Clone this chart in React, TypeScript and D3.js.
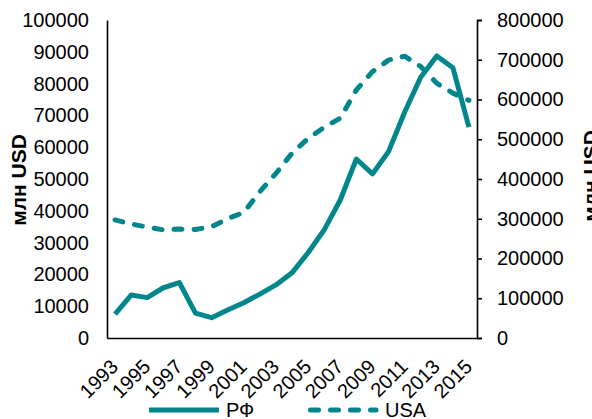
import { useEffect, useRef } from "react";
import * as d3 from "d3";

const years = [
  "1993", "1994", "1995", "1996", "1997", "1998", "1999", "2000",
  "2001", "2002", "2003", "2004", "2005", "2006", "2007", "2008",
  "2009", "2010", "2011", "2012", "2013", "2014", "2015",
];

// РФ, left axis (млн USD)
const rfValues = [
  7500, 13500, 12700, 15800, 17400, 7800, 6400, 8800,
  11100, 13800, 16700, 20500, 26800, 34000, 43400, 56300,
  51600, 58600, 71000, 82000, 88700, 85000, 66300,
];

// USA, right axis (млн USD)
const usaValues = [
  297000, 287000, 279000, 272000, 274000, 273000, 280000, 300000,
  316000, 368000, 414000, 465000, 502000, 530000, 553000, 624000,
  670000, 699000, 709000, 683000, 641000, 616000, 598000,
];

const leftTicks = [0, 10000, 20000, 30000, 40000, 50000, 60000, 70000, 80000, 90000, 100000];
const rightTicks = [0, 100000, 200000, 300000, 400000, 500000, 600000, 700000, 800000];
const yearLabels = years.filter((_, i) => i % 2 === 0);

const seriesNames = ["РФ", "USA"];
const axisTitle = "млн USD";

export default function App() {
  const svgRef = useRef<SVGSVGElement>(null);

  useEffect(() => {
    if (!svgRef.current) return;
    const svg = d3.select(svgRef.current);
    svg.selectAll("*").remove();

    const left = 107;
    const right = 477;
    const top = 20;
    const bottom = 338;
    const color = "#00868b";
    const font = "'Liberation Sans', Arial, sans-serif";

    const x = d3.scalePoint<string>().domain(years).range([left, right]).padding(0.5);
    const yL = d3.scaleLinear().domain([0, 100000]).range([bottom, top]);
    const yR = d3.scaleLinear().domain([0, 800000]).range([bottom, top]);

    const styleAxis = (g: any) => {
      g.select(".domain").attr("stroke", "#000").attr("stroke-width", 1.6);
      g.selectAll(".tick line").attr("stroke", "#000").attr("stroke-width", 1.6);
      g.selectAll("text").attr("font-size", 20).attr("font-family", font).attr("fill", "#000");
    };

    // left axis
    svg
      .append("g")
      .attr("transform", `translate(${left},0)`)
      .call(d3.axisLeft(yL).tickValues(leftTicks).tickSize(0).tickPadding(18).tickFormat(d3.format("d")) as any)
      .call(styleAxis);

    // right axis
    svg
      .append("g")
      .attr("transform", `translate(${right},0)`)
      .call(d3.axisRight(yR).tickValues(rightTicks).tickSize(5).tickPadding(15).tickFormat(d3.format("d")) as any)
      .call(styleAxis);

    // bottom axis
    const gx = svg
      .append("g")
      .attr("transform", `translate(0,${bottom})`)
      .call(d3.axisBottom(x).tickValues(yearLabels).tickSize(0) as any)
      .call(styleAxis);
    gx.selectAll("text")
      .attr("y", 0)
      .attr("dy", "0.35em")
      .attr("text-anchor", "end")
      .attr("transform", "translate(-1,25) rotate(-45)");

    // axis titles
    svg
      .append("text")
      .attr("transform", `translate(26,180) rotate(-90)`)
      .attr("text-anchor", "middle")
      .attr("font-family", font)
      .attr("font-weight", "bold")
      .attr("font-size", 21)
      .text(axisTitle);
    svg
      .append("text")
      .attr("transform", `translate(598,176) rotate(-90)`)
      .attr("text-anchor", "middle")
      .attr("font-family", font)
      .attr("font-weight", "bold")
      .attr("font-size", 21)
      .text(axisTitle);

    const lineL = d3
      .line<number>()
      .x((_, i) => x(years[i]) as number)
      .y((d) => yL(d));
    const lineR = d3
      .line<number>()
      .x((_, i) => x(years[i]) as number)
      .y((d) => yR(d));

    svg
      .append("path")
      .datum(usaValues)
      .attr("d", lineR)
      .attr("fill", "none")
      .attr("stroke", color)
      .attr("stroke-width", 5)
      .attr("stroke-linecap", "round")
      .attr("stroke-linejoin", "round")
      .attr("stroke-dasharray", "8,12");

    svg
      .append("path")
      .datum(rfValues)
      .attr("d", lineL)
      .attr("fill", "none")
      .attr("stroke", color)
      .attr("stroke-width", 5)
      .attr("stroke-linejoin", "round");

    // legend
    const legend = svg.append("g").attr("font-family", font).attr("font-size", 20);
    const items = [
      { name: seriesNames[0], x0: 149, dash: null },
      { name: seriesNames[1], x0: 308, dash: "8,12" },
    ];
    items.forEach((it) => {
      legend
        .append("line")
        .attr("x1", it.dash ? it.x0 + 2.5 : it.x0)
        .attr("x2", it.dash ? it.x0 + 68 : it.x0 + 70)
        .attr("y1", 410)
        .attr("y2", 410)
        .attr("stroke", color)
        .attr("stroke-width", 5)
        .attr("stroke-linecap", it.dash ? "round" : "butt")
        .attr("stroke-dasharray", it.dash);
      legend
        .append("text")
        .attr("x", it.x0 + 77)
        .attr("y", 417)
        .attr("fill", "#000")
        .text(it.name);
    });
  }, []);

  return (
    <svg
      ref={svgRef}
      width={592}
      height={419}
      style={{ position: "absolute", left: 0, top: 0, background: "#fff" }}
    />
  );
}
